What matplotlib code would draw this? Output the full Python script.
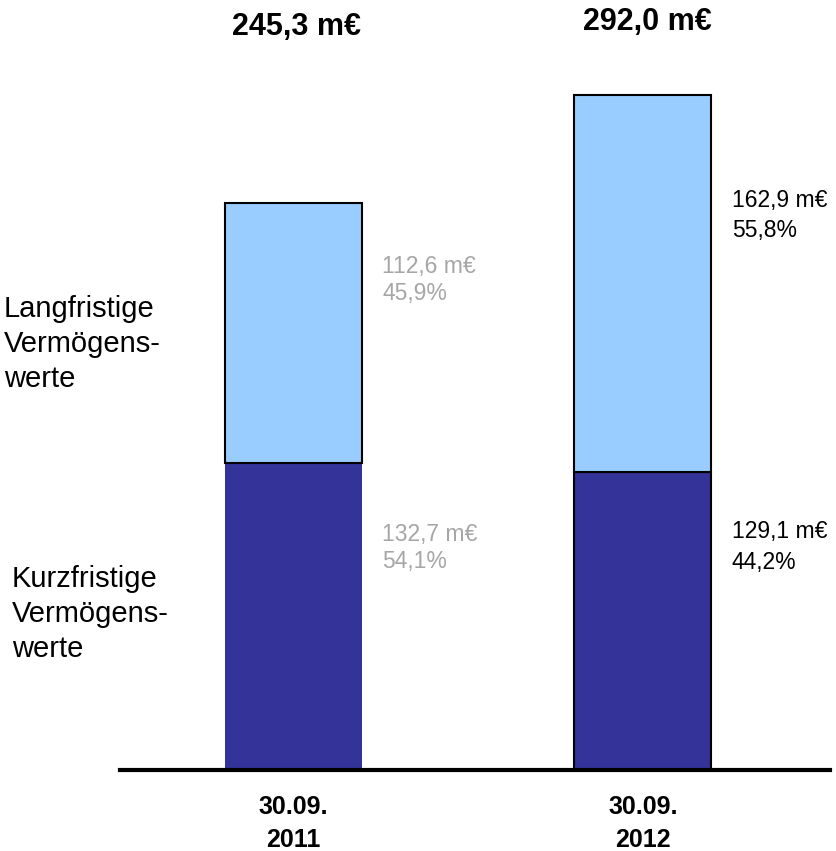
"""
Vermögensstruktur: Kurz- und langfristige Vermögenswerte
zum 30.09.2011 und 30.09.2012 als gestapelte Säulen.
"""

import matplotlib
matplotlib.use('Agg')
import matplotlib.pyplot as plt


# Daten aus dem Bild
dates = ['30.09.\n2011', '30.09.\n2012']
short_term = [132.7, 129.1]        # Kurzfristige Vermögenswerte, m€
long_term = [112.6, 162.9]         # Langfristige Vermögenswerte, m€
totals = ['245,3 m€', '292,0 m€']
short_labels = ['132,7 m€\n54,1%', '129,1 m€\n44,2%']
long_labels = ['112,6 m€\n45,9%', '162,9 m€\n55,8%']

DARK = '#333399'
LIGHT = '#99ccff'
FONT = 'Liberation Sans'


def main():
    plt.rcParams['font.family'] = FONT
    fig = plt.figure(figsize=(8.37, 8.51), dpi=100)
    ax = fig.add_axes([120 / 837, 81 / 851, 710 / 837, 770 / 851])

    x = [0, 1]
    width = 0.392
    ax.bar(x[0], short_term[0], width, color=DARK, edgecolor='none')
    ax.bar(x[1], short_term[1], width, color=DARK, edgecolor='black',
           linewidth=1.5)
    ax.bar(x, long_term, width, bottom=short_term, color=LIGHT,
           edgecolor='black', linewidth=1.5)

    ax.set_xlim(-0.496, 1.535)
    ax.set_ylim(0, 333.2)

    # Beschriftungen neben den Säulen
    label_colors = ['#a6a6a6', 'black']
    upper_y = [212, 240]
    lower_y = [96, 96.5]
    spacing = [1.2, 1.4]
    for i in range(2):
        ax.text(x[i] + 0.254, lower_y[i], short_labels[i],
                color=label_colors[i], fontsize=16.5, va='center',
                ha='left', linespacing=spacing[i])
        ax.text(x[i] + 0.254, upper_y[i], long_labels[i],
                color=label_colors[i], fontsize=16.5, va='center',
                ha='left', linespacing=spacing[i])

    # Summen oben
    fig.text(297 / 837, 1 - 27 / 851, totals[0], fontsize=22,
             fontweight='bold', ha='center', va='center')
    fig.text(647 / 837, 1 - 22 / 851, totals[1], fontsize=22,
             fontweight='bold', ha='center', va='center')

    # Kategorien links
    fig.text(4 / 837, 1 - 344 / 851, 'Langfristige\nVermögens-\nwerte',
             fontsize=21, ha='left', va='center', linespacing=1.3)
    fig.text(12 / 837, 1 - 614 / 851, 'Kurzfristige\nVermögens-\nwerte',
             fontsize=21, ha='left', va='center', linespacing=1.3)

    ax.set_xticks(x)
    ax.set_xticklabels(dates, fontsize=18, fontweight='bold',
                       linespacing=1.45)
    ax.tick_params(axis='x', length=0, pad=18)
    ax.set_yticks([])
    for side in ['top', 'right', 'left']:
        ax.spines[side].set_visible(False)
    ax.spines['bottom'].set_linewidth(3)

    fig.savefig('out.png', dpi=100)


if __name__ == '__main__':
    main()
